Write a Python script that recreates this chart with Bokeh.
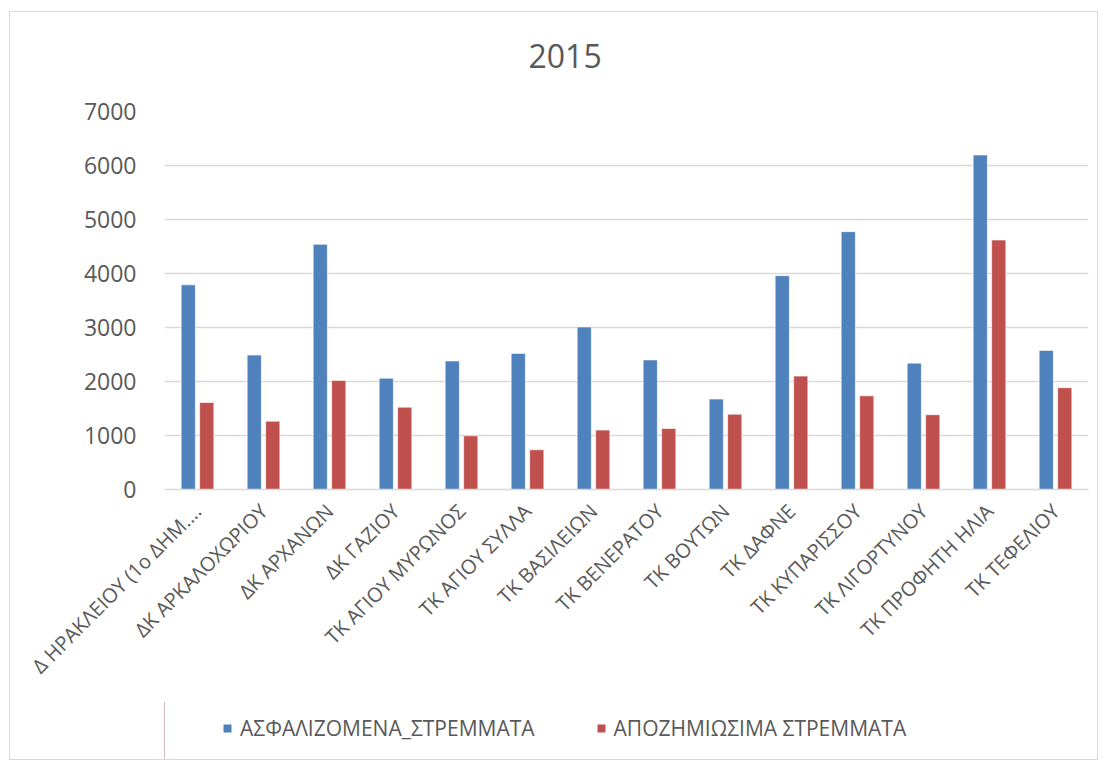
import math
from bokeh.plotting import figure
from bokeh.layouts import column
from bokeh.models import ColumnDataSource, FactorRange, Legend, LegendItem, Range1d, FixedTicker, Title
from bokeh.transform import dodge
from bokeh.embed import file_html
from bokeh.resources import INLINE

categories = [
    "Δ ΗΡΑΚΛΕΙΟΥ (1ο ΔΗΜ....",
    "ΔΚ ΑΡΚΑΛΟΧΩΡΙΟΥ",
    "ΔΚ ΑΡΧΑΝΩΝ",
    "ΔΚ ΓΑΖΙΟΥ",
    "ΤΚ ΑΓΙΟΥ ΜΥΡΩΝΟΣ",
    "ΤΚ ΑΓΙΟΥ ΣΥΛΛΑ",
    "ΤΚ ΒΑΣΙΛΕΙΩΝ",
    "ΤΚ ΒΕΝΕΡΑΤΟΥ",
    "ΤΚ ΒΟΥΤΩΝ",
    "ΤΚ ΔΑΦΝΕ",
    "ΤΚ ΚΥΠΑΡΙΣΣΟΥ",
    "ΤΚ ΛΙΓΟΡΤΥΝΟΥ",
    "ΤΚ ΠΡΟΦΗΤΗ ΗΛΙΑ",
    "ΤΚ ΤΕΦΕΛΙΟΥ",
]
asfalizomena = [3790, 2490, 4540, 2060, 2380, 2520, 3010, 2400, 1675, 3960, 4775, 2340, 6195, 2575]
apozimiosima = [1610, 1265, 2020, 1525, 995, 735, 1100, 1130, 1395, 2100, 1735, 1385, 4620, 1885]
series_names = ["ΑΣΦΑΛΙΖΟΜΕΝΑ_ΣΤΡΕΜΜΑΤΑ", "ΑΠΟΖΗΜΙΩΣΙΜΑ ΣΤΡΕΜΜΑΤΑ"]
y_ticks = [0, 1000, 2000, 3000, 4000, 5000, 6000, 7000]
title_text = "2015"

FONT = "Open Sans"
TXT = "#595959"
GRID = "#D9D9D9"
BLUE = "#4F81BD"
RED = "#C0504D"

source = ColumnDataSource(data=dict(cat=categories, a=asfalizomena, b=apozimiosima))

p = figure(
    x_range=FactorRange(*categories, range_padding=0),
    y_range=Range1d(0, 7000),
    frame_width=924, frame_height=378,
    output_backend="svg", toolbar_location=None,
    min_border_left=154, min_border_right=9, min_border_top=99, min_border_bottom=212,
)
p.outline_line_color = None
p.background_fill_color = "white"
p.border_fill_color = "white"

spacer = Title(text=" ", text_font=FONT, text_font_size="20px")
p.add_layout(spacer, "above")
t = Title(text=title_text, align="left", offset=364, text_font=FONT, text_font_size="32px",
          text_font_style="normal", text_color=TXT)
p.add_layout(t, "above")

bar_kw = dict(width=0.215, source=source, line_color="white", line_alpha=0.6, line_width=1)
r1 = p.vbar(x=dodge("cat", -0.14, range=p.x_range), top="a", fill_color=BLUE, **bar_kw)
r2 = p.vbar(x=dodge("cat", 0.14, range=p.x_range), top="b", fill_color=RED, **bar_kw)

p.xgrid.grid_line_color = None
p.ygrid.grid_line_color = GRID
p.ygrid.grid_line_width = 1.5

p.yaxis.ticker = FixedTicker(ticks=y_ticks)
p.yaxis.axis_line_color = None
p.yaxis.major_tick_line_color = None
p.yaxis.minor_tick_line_color = None
p.yaxis.major_label_text_font = FONT
p.yaxis.major_label_text_font_size = "23px"
p.yaxis.major_label_text_color = TXT
p.yaxis.major_label_standoff = 22

p.xaxis.axis_line_color = GRID
p.xaxis.axis_line_width = 1.5
p.xaxis.major_tick_line_color = None
p.xaxis.minor_tick_line_color = None
p.xaxis.major_label_orientation = math.pi / 4
p.xaxis.major_label_text_font = FONT
p.xaxis.major_label_text_font_size = "20px"
p.xaxis.major_label_text_color = TXT
p.xaxis.major_label_standoff = 12

# legend strip below the chart (legend keys use off-screen swatch renderers)
p2 = figure(
    frame_width=1087, frame_height=58,
    x_range=Range1d(0, 1), y_range=Range1d(0, 1),
    x_axis_type=None, y_axis_type=None,
    output_backend="svg", toolbar_location=None,
    min_border=0,
)
p2.outline_line_color = None
p2.grid.grid_line_color = None
p2.border_fill_color = "white"
p2.background_fill_color = "white"
key_src = ColumnDataSource(data=dict(x=[-10], y=[1]))
l1 = p2.vbar(x="x", top="y", width=0.1, source=key_src, fill_color=BLUE, line_color=None)
l2 = p2.vbar(x="x", top="y", width=0.1, source=key_src, fill_color=RED, line_color=None)

legend = Legend(
    items=[LegendItem(label=series_names[0], renderers=[l1]),
           LegendItem(label=series_names[1], renderers=[l2])],
    orientation="horizontal", location=(212, 17),
    label_text_font=FONT, label_text_font_size="21px", label_text_color=TXT,
    glyph_width=10, glyph_height=10, label_standoff=8, spacing=61,
    border_line_color=None, background_fill_alpha=0, margin=0, padding=4,
)
p2.add_layout(legend, "center")

layout = column(p, p2, spacing=0,
                styles={"border": "1px solid #D9D9D9", "margin-left": "9px", "margin-top": "11px"})

open("out.html", "w").write(file_html(layout, INLINE))
